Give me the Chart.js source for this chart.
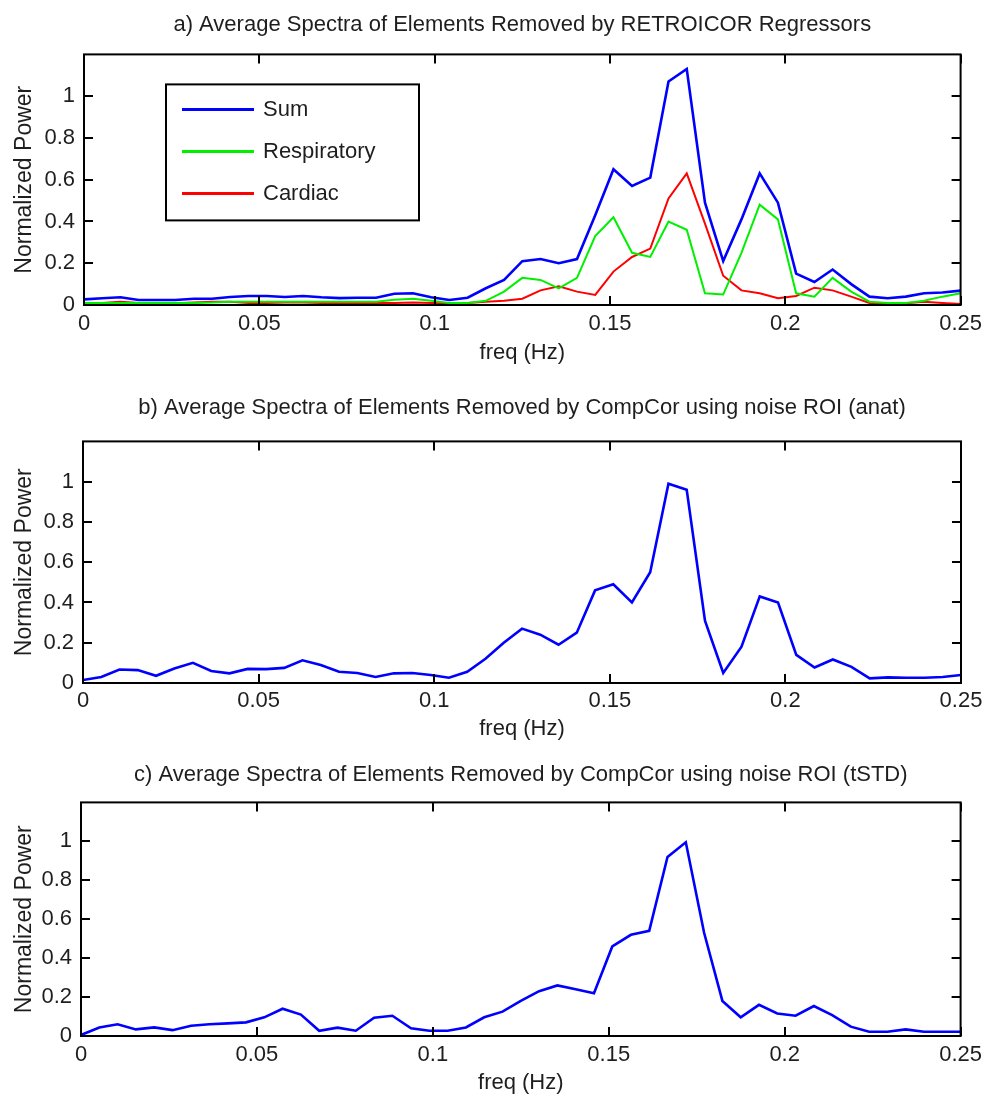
<!DOCTYPE html>
<html>
<head>
<meta charset="utf-8">
<script src="https://cdn.jsdelivr.net/npm/chart.js@4"></script>
<style>
  html, body { margin: 0; padding: 0; background: #fff; }
  #page { position: relative; width: 988px; height: 1097px; overflow: hidden; }
  canvas { position: absolute; left: 0; }
</style>
</head>
<body>
<div id="page">
  <canvas id="panelA" width="988" height="372" style="top:0px"></canvas>
  <canvas id="panelB" width="988" height="374" style="top:372px"></canvas>
  <canvas id="panelC" width="988" height="351" style="top:746px"></canvas>
</div>
<script>
// frequency bins (Hz)
const freqs = [0, 0.0052, 0.0104, 0.0156, 0.0208, 0.026, 0.0313, 0.0365, 0.0417, 0.0469,
  0.0521, 0.0573, 0.0625, 0.0677, 0.0729, 0.0781, 0.0833, 0.0885, 0.0938, 0.099,
  0.1042, 0.1094, 0.1146, 0.1198, 0.125, 0.1302, 0.1354, 0.1406, 0.1458, 0.151,
  0.1563, 0.1615, 0.1667, 0.1719, 0.1771, 0.1823, 0.1875, 0.1927, 0.1979, 0.2031,
  0.2083, 0.2135, 0.2188, 0.224, 0.2292, 0.2344, 0.2396, 0.2448, 0.25];

// a) RETROICOR regressors
const retroSum = [0.027, 0.032, 0.037, 0.024, 0.024, 0.024, 0.03, 0.03, 0.038, 0.043,
  0.043, 0.038, 0.043, 0.037, 0.033, 0.035, 0.035, 0.054, 0.056, 0.037,
  0.024, 0.035, 0.08, 0.12, 0.21, 0.22, 0.2, 0.22, 0.43, 0.65,
  0.57, 0.61, 1.07, 1.13, 0.49, 0.21, 0.41, 0.63, 0.49, 0.15,
  0.11, 0.17, 0.10, 0.04, 0.032, 0.04, 0.056, 0.06, 0.069];
const retroResp = [0.01, 0.01, 0.01, 0.01, 0.01, 0.01, 0.01, 0.012, 0.016, 0.016,
  0.016, 0.016, 0.015, 0.015, 0.015, 0.015, 0.015, 0.025, 0.03, 0.02,
  0.01, 0.01, 0.02, 0.064, 0.13, 0.12, 0.08, 0.13, 0.33, 0.42,
  0.25, 0.23, 0.40, 0.36, 0.056, 0.05, 0.25, 0.48, 0.41, 0.056,
  0.04, 0.13, 0.064, 0.016, 0.01, 0.01, 0.02, 0.04, 0.056];
const retroCard = [0.008, 0.01, 0.015, 0.01, 0.008, 0.008, 0.012, 0.015, 0.015, 0.01,
  0.01, 0.012, 0.012, 0.01, 0.01, 0.01, 0.01, 0.01, 0.012, 0.01,
  0.008, 0.01, 0.016, 0.02, 0.03, 0.07, 0.09, 0.064, 0.048, 0.16,
  0.23, 0.27, 0.51, 0.63, 0.39, 0.14, 0.07, 0.056, 0.032, 0.043,
  0.083, 0.07, 0.04, 0.01, 0.008, 0.008, 0.016, 0.01, 0.005];

// b) CompCor, anatomical noise ROI
const compcorAnat = [0.015, 0.03, 0.067, 0.064, 0.036, 0.072, 0.10, 0.06, 0.048, 0.07,
  0.069, 0.075, 0.113, 0.089, 0.056, 0.05, 0.03, 0.048, 0.05, 0.04,
  0.026, 0.056, 0.12, 0.20, 0.27, 0.24, 0.19, 0.25, 0.46, 0.49,
  0.40, 0.55, 0.99, 0.96, 0.31, 0.05, 0.18, 0.43, 0.40, 0.14,
  0.077, 0.117, 0.08, 0.023, 0.028, 0.026, 0.026, 0.03, 0.04];

// c) CompCor, tSTD noise ROI
const compcorTstd = [0.005, 0.044, 0.06, 0.034, 0.044, 0.03, 0.053, 0.06, 0.065, 0.07,
  0.096, 0.14, 0.11, 0.027, 0.043, 0.027, 0.094, 0.104, 0.04, 0.027,
  0.027, 0.044, 0.096, 0.125, 0.18, 0.23, 0.26, 0.24, 0.22, 0.46,
  0.52, 0.54, 0.92, 0.995, 0.53, 0.18, 0.096, 0.16, 0.116, 0.104,
  0.154, 0.107, 0.048, 0.022, 0.022, 0.034, 0.022, 0.022, 0.022];

const xTicks = [0, 0.05, 0.1, 0.15, 0.2, 0.25];
const yTicks = [0, 0.2, 0.4, 0.6, 0.8, 1];

const FONT = '"Liberation Sans", Arial, Helvetica, sans-serif';
const TEXT = '#1e1e1e';

function pts(values) {
  return values.map((v, i) => ({ x: freqs[i], y: v }));
}

// matlab-style box with inward ticks on all four sides
const boxPlugin = {
  id: 'matlabBox',
  afterDraw(chart) {
    const { ctx, chartArea: a, scales } = chart;
    const len = 9;
    ctx.save();
    ctx.strokeStyle = '#000';
    ctx.lineWidth = 2;
    ctx.strokeRect(a.left, a.top, a.right - a.left, a.bottom - a.top);
    ctx.beginPath();
    xTicks.forEach(v => {
      const px = Math.round(scales.x.getPixelForValue(v));
      ctx.moveTo(px, a.bottom); ctx.lineTo(px, a.bottom - len);
      ctx.moveTo(px, a.top); ctx.lineTo(px, a.top + len);
    });
    yTicks.forEach(v => {
      const py = Math.round(scales.y.getPixelForValue(v));
      ctx.moveTo(a.left, py); ctx.lineTo(a.left + len, py);
      ctx.moveTo(a.right, py); ctx.lineTo(a.right - len, py);
    });
    ctx.stroke();
    ctx.restore();
  }
};

// boxed legend sitting inside the axes
const insetLegend = {
  id: 'insetLegend',
  afterDraw(chart, args, opts) {
    if (!opts.show) return;
    const { ctx, chartArea: a } = chart;
    const x0 = a.left + opts.dx, y0 = a.top + opts.dy;
    ctx.save();
    ctx.fillStyle = '#fff';
    ctx.fillRect(x0, y0, opts.w, opts.h);
    ctx.strokeStyle = '#000';
    ctx.lineWidth = 2;
    ctx.strokeRect(x0, y0, opts.w, opts.h);
    ctx.font = '22px ' + FONT;
    ctx.textBaseline = 'middle';
    chart.data.datasets.forEach((ds, i) => {
      const y = y0 + 25 + i * 42;
      ctx.strokeStyle = ds.borderColor;
      ctx.lineWidth = 3;
      ctx.beginPath();
      ctx.moveTo(x0 + 16, y);
      ctx.lineTo(x0 + 88, y);
      ctx.stroke();
      ctx.fillStyle = TEXT;
      ctx.fillText(ds.label, x0 + 97, y + 1);
    });
    ctx.restore();
  }
};

function makePanel(p) {
  return new Chart(document.getElementById(p.id), {
    type: 'line',
    data: { datasets: p.datasets },
    options: {
      responsive: false,
      animation: false,
      layout: { padding: { left: 0, right: p.padRight, top: 0, bottom: 0 } },
      elements: { point: { radius: 0 }, line: { tension: 0 } },
      scales: {
        x: {
          type: 'linear', min: 0, max: 0.25,
          grid: { display: false, drawTicks: false },
          border: { display: false },
          afterBuildTicks: s => { s.ticks = xTicks.map(v => ({ value: v })); },
          afterFit: s => { s.height = p.xHeight; },
          ticks: {
            padding: p.xTickPad, color: TEXT, maxRotation: 0,
            font: { family: FONT, size: 22 },
            callback: v => String(v)
          },
          title: {
            display: true, text: 'freq (Hz)', color: TEXT,
            font: { family: FONT, size: 22 },
            padding: { top: 0, bottom: p.xTitlePad }
          }
        },
        y: {
          min: 0, max: 1.2,
          grid: { display: false, drawTicks: false },
          border: { display: false },
          afterBuildTicks: s => { s.ticks = yTicks.map(v => ({ value: v })); },
          afterFit: s => { s.width = p.left; },
          ticks: {
            padding: 9, color: TEXT,
            font: { family: FONT, size: 22 },
            callback: v => String(v)
          },
          title: {
            display: true, text: 'Normalized Power', color: TEXT,
            font: { family: FONT, size: 23 },
            padding: { top: 11, bottom: 0 }
          }
        }
      },
      plugins: {
        legend: { display: false },
        tooltip: { enabled: false },
        title: {
          display: true, text: p.title, color: TEXT, fullSize: false,
          font: { family: FONT, size: 22, weight: 'normal', lineHeight: 1.2 },
          padding: { top: p.titleTop, bottom: p.titleBottom }
        },
        insetLegend: p.legend || { show: false }
      }
    },
    plugins: [boxPlugin, insetLegend]
  });
}

makePanel({
  id: 'panelA',
  title: 'a) Average Spectra of Elements Removed by RETROICOR Regressors',
  left: 84, padRight: 27, xHeight: 67, xTickPad: 6, xTitlePad: 6,
  titleTop: 12, titleBottom: 16,
  datasets: [
    { label: 'Sum', data: pts(retroSum), borderColor: '#0000ff', borderWidth: 2.6 },
    { label: 'Respiratory', data: pts(retroResp), borderColor: '#00f000', borderWidth: 2 },
    { label: 'Cardiac', data: pts(retroCard), borderColor: '#ff0000', borderWidth: 2 }
  ],
  legend: { show: true, dx: 82, dy: 30, w: 253, h: 136 }
});

makePanel({
  id: 'panelB',
  title: 'b) Average Spectra of Elements Removed by CompCor using noise ROI (anat)',
  left: 83, padRight: 27, xHeight: 63, xTickPad: 5, xTitlePad: 4,
  titleTop: 23, titleBottom: 20,
  datasets: [
    { label: 'anat', data: pts(compcorAnat), borderColor: '#0000ff', borderWidth: 2.6 }
  ]
});

makePanel({
  id: 'panelC',
  title: 'c) Average Spectra of Elements Removed by CompCor using noise ROI (tSTD)',
  left: 81, padRight: 26, xHeight: 61, xTickPad: 6, xTitlePad: 1,
  titleTop: 16, titleBottom: 14,
  datasets: [
    { label: 'tSTD', data: pts(compcorTstd), borderColor: '#0000ff', borderWidth: 2.6 }
  ]
});
</script>
</body>
</html>
